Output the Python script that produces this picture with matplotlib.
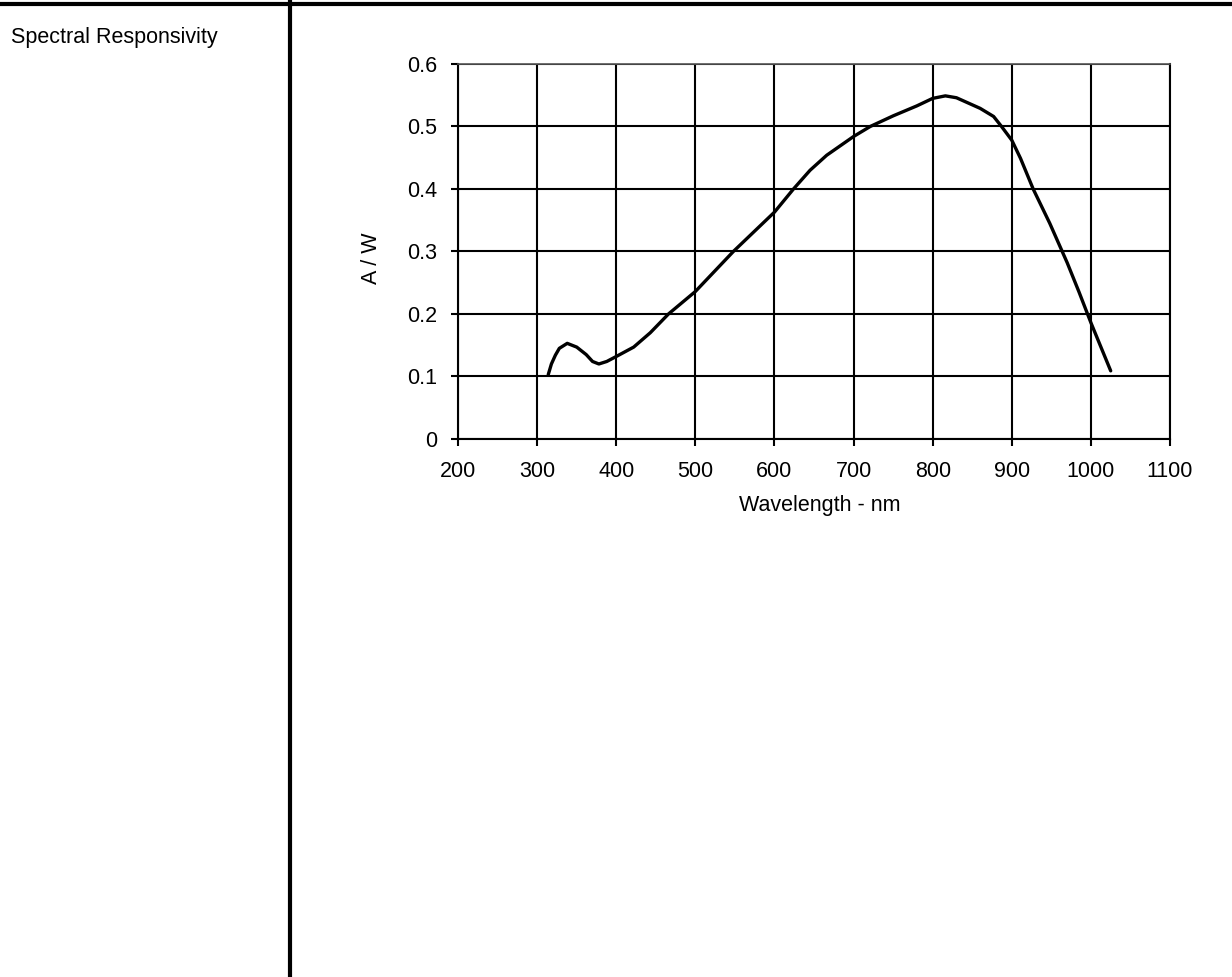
import matplotlib
matplotlib.use("Agg")
import matplotlib.pyplot as plt
from matplotlib.lines import Line2D

# spectral responsivity
wavelength_nm = [314, 318, 323, 328, 338, 350, 362, 370, 378, 388, 400, 422, 443, 466,
                 500, 548, 600, 624, 645, 666, 700, 721, 750, 780, 800, 816, 830,
                 860, 877, 887, 900, 911, 927, 948, 970, 985, 1000, 1025]
responsivity = [0.103, 0.120, 0.134, 0.145, 0.153, 0.147, 0.135, 0.124, 0.120, 0.124,
                0.132, 0.147, 0.170, 0.200, 0.236, 0.300, 0.363, 0.400, 0.430, 0.454,
                0.484, 0.500, 0.517, 0.533, 0.545, 0.549, 0.546, 0.529, 0.516, 0.500,
                0.478, 0.449, 0.400, 0.345, 0.282, 0.235, 0.186, 0.109]

x_ticks = [200, 300, 400, 500, 600, 700, 800, 900, 1000, 1100]
y_ticks = [0, 0.1, 0.2, 0.3, 0.4, 0.5, 0.6]
y_tick_labels = ["0", "0.1", "0.2", "0.3", "0.4", "0.5", "0.6"]

plt.rcParams["font.family"] = ["Liberation Sans", "DejaVu Sans"]
FS = 15.5

fig = plt.figure(figsize=(12.32, 9.77), dpi=100)
ax = fig.add_axes([0.3718, 0.5507, 0.5779, 0.3838])

ax.plot(wavelength_nm, responsivity, color="black", linewidth=2.4,
        solid_joinstyle="round", solid_capstyle="round", zorder=3)

ax.set_xlim(200, 1100)
ax.set_ylim(0, 0.6)
ax.set_xticks(x_ticks)
ax.set_xticklabels([str(t) for t in x_ticks])
ax.set_yticks(y_ticks)
ax.set_yticklabels(y_tick_labels)
ax.grid(True, color="black", linewidth=1.5)
ax.set_axisbelow(True)

ax.tick_params(axis="both", direction="out", length=5, width=1.5,
               color="black", labelsize=FS)
ax.tick_params(axis="x", pad=11)
ax.tick_params(axis="y", pad=10)
for side in ["left", "right", "bottom"]:
    ax.spines[side].set_linewidth(1.5)
ax.spines["top"].set_linewidth(1.2)
ax.spines["top"].set_color("#555555")

ax.set_xlabel("Wavelength - nm", fontsize=FS, va="center")
ax.xaxis.set_label_coords(0.508, -0.178)
ax.set_ylabel("A / W", fontsize=FS, va="center", ha="center")
ax.yaxis.set_label_coords(-0.121, 0.483)

# page frame of the datasheet
fig.add_artist(Line2D([0, 1], [0.9954, 0.9954], color="black", linewidth=3.0))
fig.add_artist(Line2D([0.2354, 0.2354], [0, 1], color="black", linewidth=3.0))
fig.text(0.009, 0.9557, "Spectral Responsivity", fontsize=FS, ha="left", va="baseline")

fig.savefig("out.png", dpi=100)
